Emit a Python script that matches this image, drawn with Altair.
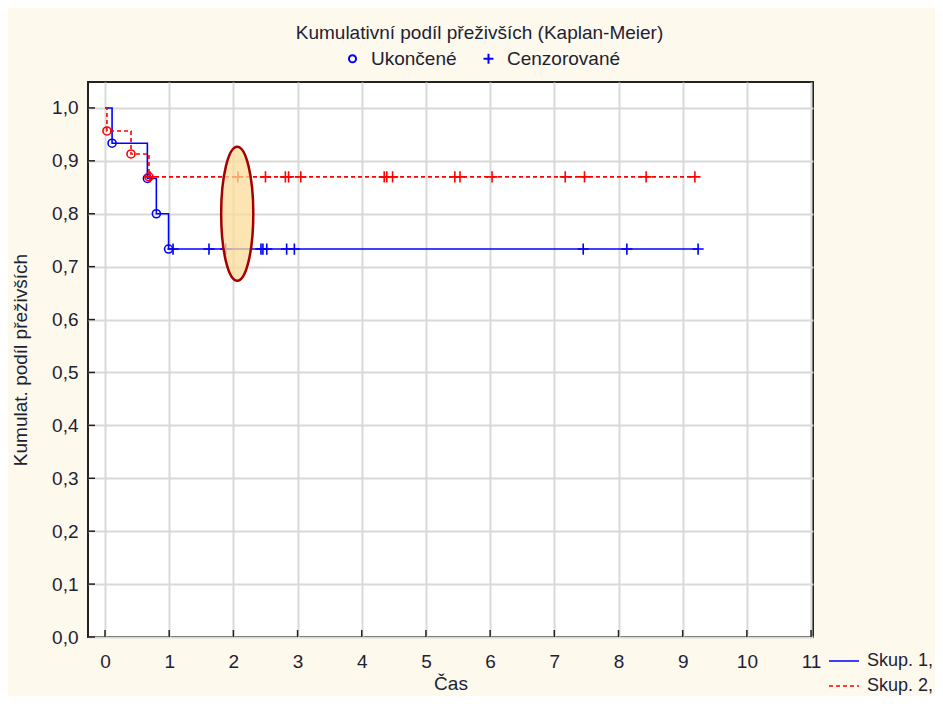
import altair as alt
import pandas as pd

# ---- data ----
groups = ["Skup. 1,", "Skup. 2,"]
marker_types = ["Ukončené", "Cenzorované"]

blue_event_t = [0.11, 0.66, 0.80, 0.99]
blue_event_s = [0.9333, 0.8667, 0.8000, 0.7333]
blue_cens_t = [1.06, 1.62, 1.88, 2.43, 2.46, 2.52, 2.83, 2.95, 7.45, 8.13, 9.24]

red_event_t = [0.03, 0.405, 0.685]
red_event_s = [0.9565, 0.9130, 0.8696]
red_cens_t = [0.70, 2.07, 2.50, 2.81, 2.86, 3.05, 4.35, 4.39, 4.48, 5.45,
              5.53, 6.03, 7.17, 7.47, 8.43, 9.19]

x_ticks = list(range(0, 12))
y_ticks = [i / 10 for i in range(0, 11)]

highlight_t = [2.06]
highlight_s = [0.80]

# ---- build tables ----
line_rows, point_rows = [], []
for g, et, es, ct in [(groups[0], blue_event_t, blue_event_s, blue_cens_t),
                      (groups[1], red_event_t, red_event_s, red_cens_t)]:
    line_rows.append({"grp": g, "t": 0.0, "s": 1.0})
    for t, s in zip(et, es):
        line_rows.append({"grp": g, "t": t, "s": s})
        point_rows.append({"grp": g, "t": t, "s": s, "typ": marker_types[0]})
    for t in ct:
        s = 1.0
        for tt, ss in zip(et, es):
            if tt <= t:
                s = ss
        point_rows.append({"grp": g, "t": t, "s": s, "typ": marker_types[1]})
    line_rows.append({"grp": g, "t": max(ct), "s": es[-1]})

lines_df = pd.DataFrame(line_rows)
points_df = pd.DataFrame(point_rows)
hl_df = pd.DataFrame({"t": highlight_t, "s": highlight_s})
xt_df = pd.DataFrame({"t": x_ticks})
yt_df = pd.DataFrame({"s": y_ticks})

FONT = "Liberation Sans"
TXT = "#1d2233"
W, H = 725, 555
XDOM = [-0.265, 11.03]
YDOM = [0, 1.049]

xscale = alt.Scale(domain=XDOM, nice=False, zero=False)
yscale = alt.Scale(domain=YDOM, nice=False, zero=False)

xaxis = alt.Axis(values=x_ticks, title="Čas", grid=True, gridColor="#d9d9d9",
                 gridWidth=2, ticks=False, domain=False, labelPadding=15,
                 labelFontSize=19, labelFont=FONT, labelColor=TXT,
                 titleFontSize=19, titleFont=FONT, titleColor=TXT,
                 titleFontWeight="normal", titlePadding=3)
yaxis = alt.Axis(values=y_ticks, title="Kumulat.  podíl přeživších", grid=True,
                 gridColor="#d9d9d9", gridWidth=2, ticks=False, domain=False,
                 labelPadding=10, labelFontSize=19, labelFont=FONT, labelColor=TXT,
                 labelExpr="replace(format(datum.value, '.1f'), '.', ',')",
                 titleFontSize=19, titleFont=FONT, titleColor=TXT,
                 titleFontWeight="normal", titlePadding=21)

X = alt.X("t:Q", scale=xscale, axis=xaxis)
Y = alt.Y("s:Q", scale=yscale, axis=yaxis)

color_scale = alt.Scale(domain=groups, range=["#0000ff", "#ff0000"])

grp_legend = alt.Legend(title=None, orient="none", legendX=740, legendY=563,
                        symbolType="stroke", symbolSize=900, symbolStrokeWidth=1.6,
                        labelFontSize=18, labelFont=FONT, labelColor=TXT,
                        rowPadding=-3, labelOffset=7)

lines = alt.Chart(lines_df).mark_line(interpolate="step-after", strokeWidth=1.6).encode(
    x=X, y=Y,
    color=alt.Color("grp:N", scale=color_scale, legend=grp_legend),
    strokeDash=alt.StrokeDash("grp:N",
                              scale=alt.Scale(domain=groups, range=[[1, 0], [4, 3]]),
                              legend=grp_legend),
    detail="grp:N",
)

plus_path = "M-1.4,0L1.4,0M0,-1.4L0,1.4"
points = alt.Chart(points_df).mark_point(filled=False, strokeWidth=1.6, opacity=1, size=64).encode(
    x=X, y=Y,
    stroke=alt.Stroke("grp:N", scale=color_scale, legend=None),
    shape=alt.Shape("typ:N", scale=alt.Scale(domain=marker_types, range=["circle", plus_path]),
                    legend=alt.Legend(title=None, orient="none", direction="horizontal",
                                      legendX=255, legendY=-33, symbolStrokeColor="#0000ff",
                                      symbolFillColor="transparent", symbolStrokeWidth=2,
                                      symbolSize=50, labelFontSize=19, labelFont=FONT,
                                      labelColor=TXT, columnPadding=22, labelOffset=9)),
)

ellipse_path = "M-0.24,0A0.24,1 0 1,1 0.24,0A0.24,1 0 1,1 -0.24,0Z"
ellipse = alt.Chart(hl_df).mark_point(
    shape=ellipse_path, size=17956, filled=True, fill="#fbdc9a", fillOpacity=0.75,
    stroke="#a50000", strokeWidth=2.5, strokeOpacity=1, opacity=1
).encode(x=X, y=Y)

yticks = alt.Chart(yt_df).mark_rule(color="#222", strokeWidth=1.5).encode(
    y=Y, x=alt.value(0), x2=alt.value(7))
xticks = alt.Chart(xt_df).mark_rule(color="#222", strokeWidth=1.5).encode(
    x=X, y=alt.value(H), y2=alt.value(H - 7))

chart = alt.layer(yticks, xticks, lines, points, ellipse).properties(
    width=W, height=H,
    title=alt.TitleParams(text="Kumulativní podíl přeživších (Kaplan-Meier)",
                          fontSize=19, font=FONT, fontWeight="normal", color=TXT,
                          anchor="middle", frame="group", dx=29, offset=6),
    padding={"left": 80, "top": 74, "right": 122, "bottom": 59},
    autosize=alt.AutoSizeParams(type="none"),
).configure(background="#fef9ed").configure_view(
    fill="white", stroke="#222", strokeWidth=2
)

chart.save("out.html", embed_options={"renderer": "svg", "actions": False})
